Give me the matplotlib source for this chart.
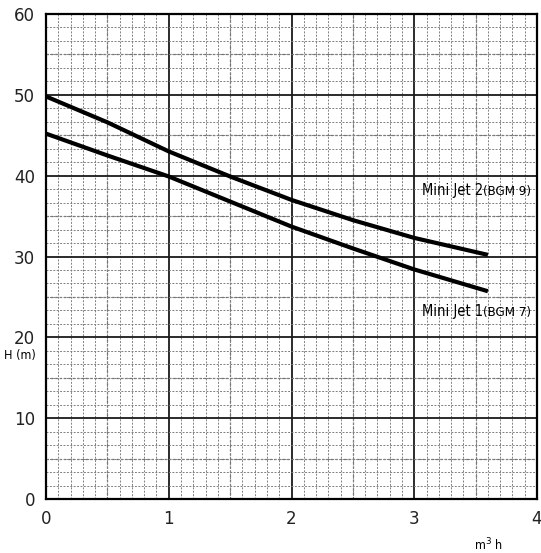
import matplotlib.pyplot as plt
import numpy as np
from matplotlib.ticker import MultipleLocator

# pump curves, flow in m3/h vs head in m
flow = [0, 0.5, 1, 1.5, 2, 2.5, 3, 3.6]
head_jet2 = [49.8, 46.6, 43.0, 39.9, 37.0, 34.5, 32.3, 30.2]
head_jet1 = [45.2, 42.5, 39.9, 36.8, 33.7, 31.0, 28.4, 25.7]

x_ticks = [0, 1, 2, 3, 4]
y_ticks = [0, 10, 20, 30, 40, 50, 60]

fig = plt.figure(figsize=(5.41, 5.53), dpi=100)
ax = fig.add_axes([46 / 541, 54 / 553, 491 / 541, 485 / 553])

ax.set_xlim(0, 4)
ax.set_ylim(0, 60)
ax.set_xticks(x_ticks)
ax.set_yticks(y_ticks)
ax.xaxis.set_minor_locator(MultipleLocator(0.1))
ax.yaxis.set_minor_locator(MultipleLocator(10 / 6))

# graph-paper style grid
ax.grid(which='minor', color='#808080', linestyle=(0, (2, 1.5)), linewidth=0.7)
ax.grid(which='major', color='#1a1a1a', linestyle='-', linewidth=1.3)
for xv in np.arange(0.5, 4, 1):
    ax.axvline(xv, color='#707070', linestyle=(0, (2, 1.5)), linewidth=0.9, zorder=0.5)
for yv in np.arange(5, 60, 10):
    ax.axhline(yv, color='#707070', linestyle=(0, (2, 1.5)), linewidth=0.9, zorder=0.5)
ax.set_axisbelow(True)

ax.tick_params(which='both', length=0, labelsize=12, pad=8, labelcolor='#222222')
for s in ax.spines.values():
    s.set_linewidth(1.6)
    s.set_color('black')

ax.plot(flow, head_jet2, color='black', linewidth=3, solid_capstyle='butt')
ax.plot(flow, head_jet1, color='black', linewidth=3, solid_capstyle='butt')

t2 = ax.text(3.06, 37.2, 'Mini Jet 2', fontsize=10.5, fontstretch='condensed', va='bottom')
ax.annotate('(BGM 9)', xy=(1, 0), xycoords=t2, va='bottom', fontsize=9.5, fontstretch='condensed')
t1 = ax.text(3.06, 22.3, 'Mini Jet 1', fontsize=10.5, fontstretch='condensed', va='bottom')
ax.annotate('(BGM 7)', xy=(1, 0), xycoords=t1, va='bottom', fontsize=9.5, fontstretch='condensed')

fig.text(20 / 541, 1 - 356 / 553, 'H (m)', fontsize=9, fontstretch='condensed', va='center', ha='center')
fig.text(488 / 541, 1 - 545 / 553, 'm$^3$ h', fontsize=9, fontstretch='condensed', va='center', ha='center')

fig.savefig('out.png', dpi=100)
